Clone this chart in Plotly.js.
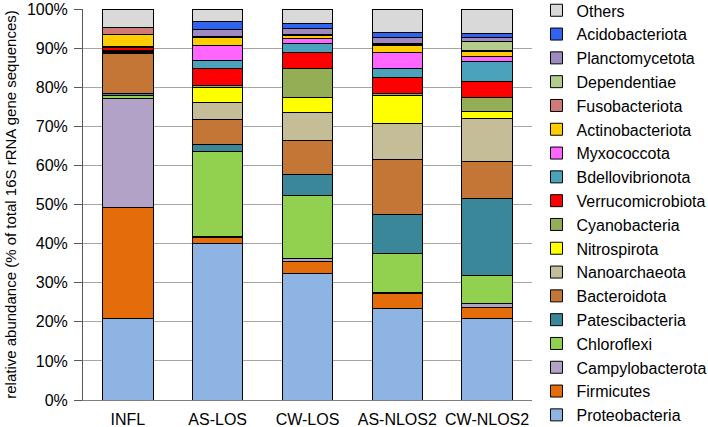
<!DOCTYPE html>
<html>
<head>
<meta charset="utf-8">
<script src="https://cdn.plot.ly/plotly-3.0.1.min.js"></script>
<style>
  html, body { margin: 0; padding: 0; background: #fff; }
  #chart { width: 708px; height: 427px; }
</style>
</head>
<body>
<div id="chart"></div>
<script>
// samples on the x axis
const samples = ['INFL', 'AS-LOS', 'CW-LOS', 'AS-NLOS2', 'CW-NLOS2'];

// relative abundance (%) per phylum, one value per sample
const proteobacteria    = [20.8, 40.0, 32.3, 23.3, 20.8];
const firmicutes        = [28.4,  1.6,  3.2,  3.9,  2.9];
const campylobacterota  = [27.8,  0.2,  0.7,  0.3,  1.1];
const chloroflexi       = [ 0.9, 21.7, 16.0, 10.0,  7.0];
const patescibacteria   = [ 0.4,  1.8,  5.6,  9.9, 19.7];
const bacteroidota      = [10.4,  6.5,  8.5, 14.0,  9.4];
const nanoarchaeota     = [ 0.2,  4.4,  7.3,  9.2, 11.2];
const nitrospirota      = [ 0.2,  3.8,  3.7,  7.2,  1.8];
const cyanobacteria     = [ 0.3,  0.4,  7.6,  0.5,  3.5];
const verrucomicrobiota = [ 0.7,  4.3,  4.0,  4.3,  4.1];
const bdellovibrionota  = [ 0.2,  2.1,  2.2,  2.1,  5.0];
const myxococcota       = [ 0.2,  3.9,  1.3,  4.2,  1.4];
const actinobacteriota  = [ 2.9,  2.1,  0.7,  1.8,  1.3];
const fusobacteriota    = [ 1.8,  0.1,  0.3,  0.3,  0.1];
const dependentiae      = [ 0.0,  0.1,  0.1,  0.2,  2.5];
const planctomycetota   = [ 0.0,  1.8,  1.6,  1.6,  1.0];
const acidobacteriota   = [ 0.0,  2.0,  1.3,  1.2,  0.9];
const others            = [ 4.8,  3.2,  3.6,  6.0,  6.3];

// stacking order, bottom to top
const series = [
  ['Proteobacteria', proteobacteria, '#8eb4e3'],
  ['Firmicutes', firmicutes, '#e46c0a'],
  ['Campylobacterota', campylobacterota, '#b3a2c7'],
  ['Chloroflexi', chloroflexi, '#92d050'],
  ['Patescibacteria', patescibacteria, '#3a879a'],
  ['Bacteroidota', bacteroidota, '#c47636'],
  ['Nanoarchaeota', nanoarchaeota, '#c4bd97'],
  ['Nitrospirota', nitrospirota, '#ffff00'],
  ['Cyanobacteria', cyanobacteria, '#93ae55'],
  ['Verrucomicrobiota', verrucomicrobiota, '#ff0000'],
  ['Bdellovibrionota', bdellovibrionota, '#4aa3bb'],
  ['Myxococcota', myxococcota, '#ff66ff'],
  ['Actinobacteriota', actinobacteriota, '#ffcc00'],
  ['Fusobacteriota', fusobacteriota, '#d07a78'],
  ['Dependentiae', dependentiae, '#b1cc8b'],
  ['Planctomycetota', planctomycetota, '#9d8bbf'],
  ['Acidobacteriota', acidobacteriota, '#2e64f0'],
  ['Others', others, '#d9d9d9']
];

const traces = series.map(([name, vals, color]) => ({
  type: 'bar',
  name: name,
  x: samples,
  y: vals,
  marker: { color: color, line: { color: '#000', width: 1 } },
  hovertemplate: '%{x}<br>' + name + ': %{y:.1f}%<extra></extra>'
}));

const layout = {
  width: 708,
  height: 427,
  barmode: 'stack',
  bargap: 0.44,
  margin: { l: 83, r: 176, t: 9, b: 27, autoexpand: false },
  paper_bgcolor: '#fff',
  plot_bgcolor: '#fff',
  font: { family: 'Arial, "Liberation Sans", sans-serif', size: 16, color: '#000' },
  xaxis: {
    showline: true,
    linecolor: '#7f7f7f',
    linewidth: 1,
    ticks: '',
    ticklabelstandoff: 5,
    tickfont: { size: 16 }
  },
  yaxis: {
    range: [0, 100],
    dtick: 10,
    ticksuffix: '%',
    showgrid: true,
    gridcolor: '#a6a6a6',
    gridwidth: 1,
    showline: true,
    linecolor: '#595959',
    linewidth: 1,
    ticks: 'outside',
    ticklen: 8,
    tickcolor: '#595959',
    ticklabelstandoff: 3,
    ticklabeloverflow: 'allow',
    tickfont: { size: 16 },
    title: { text: 'relative abundance (% of total 16S rRNA gene sequences)', font: { size: 15 }, standoff: 6 }
  },
  legend: {
    x: 1.01,
    xanchor: 'left',
    y: 1.04,
    yanchor: 'top',
    traceorder: 'reversed',
    font: { size: 16 },
    itemwidth: 30,
    maxheight: 600
  },
  showlegend: true
};

Plotly.newPlot('chart', traces, layout, { displayModeBar: false });
</script>
</body>
</html>
